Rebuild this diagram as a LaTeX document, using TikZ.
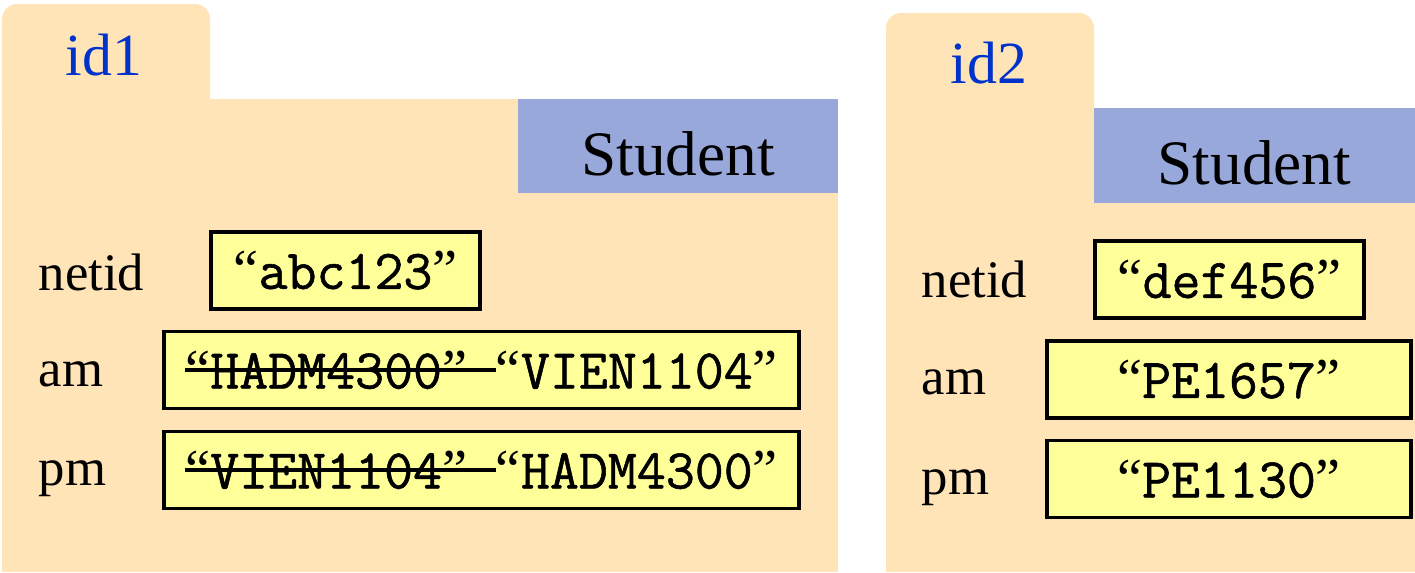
\documentclass[tikz,border=0pt]{standalone}
\usepackage{fontspec}
\setmainfont{Liberation Serif}
\newfontfamily\valuefont{Latin Modern Mono}[FakeBold=1]
\usetikzlibrary{calc}
\definecolor{foldertan}{RGB}{255,228,184}
\definecolor{classblue}{RGB}{153,168,219}
\definecolor{fieldyellow}{RGB}{255,255,153}
\definecolor{idblue}{RGB}{0,51,204}
% quoted string value, curly quotes from the serif face
\newcommand{\strval}[1]{{\rmfamily“}#1{\rmfamily”}}
% struck-out old value, with the space after it
\newcommand{\oldvalue}[1]{\sbox0{\strval{#1}\ }\rlap{\usebox0}\rule[0.3em]{\wd0}{1pt}}
\tikzset{
  folder/.style={fill=foldertan, draw=none},
  classbox/.style={fill=classblue, draw=none},
  idlabel/.style={anchor=base, inner sep=0pt, text=idblue, font=\fontsize{17}{20}\selectfont},
  classlabel/.style={anchor=base, inner sep=0pt, font=\fontsize{18}{22}\selectfont},
  fieldname/.style={anchor=base west, inner sep=0pt, font=\fontsize{15}{18}\selectfont},
  fieldbox/.style={draw=black, line width=1.1pt, fill=fieldyellow, inner sep=0pt,
    minimum height=0.77cm, font=\valuefont\fontsize{16}{19}\selectfont},
}

\begin{document}
\begin{tikzpicture}[x=0.01cm, y=-0.01cm]
\useasboundingbox (0,0) rectangle (1415,572);

%%%%%%%%%%%%%%%%%%%%%%%%%%%%%%%%%%%%%%%%%%%%%%%%%%%%%%%%%%%%%% Setup
\coordinate (L) at (0, 0);
\coordinate (R) at (884, 9);

%%%%%%%%%%%%%%%%%%%%%%%%%%%%%%%%%%%%%%%%%%%%%%%%%%%%%%%%%%%%%% Folder id1
\fill[folder, rounded corners=0.15cm] ($(L)+(2,4)$) rectangle ($(L)+(210,140)$);
\fill[folder] ($(L)+(2,99)$) rectangle ($(L)+(838,572)$);
\fill[classbox] ($(L)+(518,99)$) rectangle ($(L)+(838,193)$);
\node[idlabel] (id1) at ($(L)+(104,75)$) {id1};
\node[classlabel] (cls1) at ($(L)+(678,175)$) {Student};

\node[fieldname] (netid1) at ($(L)+(38,290)$) {netid};
\node[fieldname] (am1) at ($(L)+(38,386)$) {am};
\node[fieldname] (pm1) at ($(L)+(38,485)$) {pm};

\node[fieldbox, minimum width=2.69cm] (netidval1) at ($(L)+(345.5,270.5)$) {\strval{abc123}};
\node[fieldbox, minimum width=6.35cm] (amval1) at ($(L)+(481.5,370)$) {\oldvalue{HADM4300}\strval{VIEN1104}};
\node[fieldbox, minimum width=6.35cm] (pmval1) at ($(L)+(481.5,470)$) {\oldvalue{VIEN1104}\strval{HADM4300}};

%%%%%%%%%%%%%%%%%%%%%%%%%%%%%%%%%%%%%%%%%%%%%%%%%%%%%%%%%%%%%% Folder id2
\fill[folder, rounded corners=0.15cm] ($(R)+(2,4)$) rectangle ($(R)+(210,140)$);
\fill[folder] ($(R)+(2,99)$) rectangle ($(R)+(531,563)$);
\fill[classbox] ($(R)+(210,99)$) rectangle ($(R)+(531,194)$);
\node[idlabel] (id2) at ($(R)+(105,74)$) {id2};
\node[classlabel] (cls2) at ($(R)+(370.5,175)$) {Student};

\node[fieldname] (netid2) at ($(R)+(37,288)$) {netid};
\node[fieldname] (am2) at ($(R)+(37,385)$) {am};
\node[fieldname] (pm2) at ($(R)+(37,485)$) {pm};

\node[fieldbox, minimum width=2.69cm] (netidval2) at ($(R)+(345.5,270.5)$) {\strval{def456}};
\node[fieldbox, minimum width=3.64cm] (amval2) at ($(R)+(345,370.5)$) {\strval{PE1657}};
\node[fieldbox, minimum width=3.64cm] (pmval2) at ($(R)+(345,470)$) {\strval{PE1130}};

\end{tikzpicture}
\end{document}
